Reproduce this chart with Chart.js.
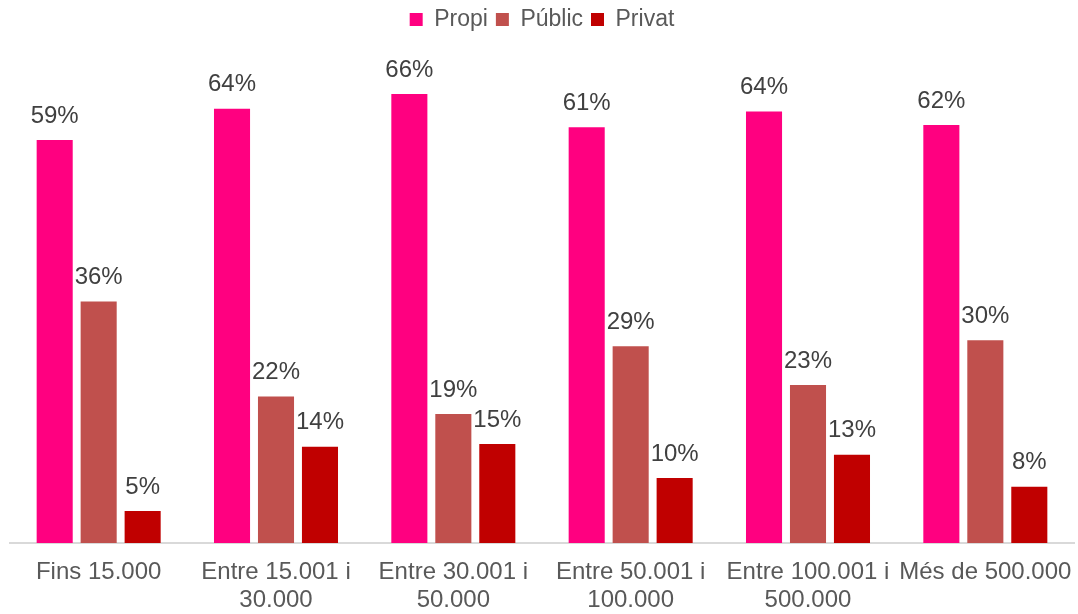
<!DOCTYPE html>
<html lang="ca">
<head>
  <meta charset="UTF-8">
  <title>Propi / Públic / Privat</title>
  <script src="https://cdn.jsdelivr.net/npm/chart.js"></script>
  <style>
    html, body { margin: 0; padding: 0; background: #fff; }
    #wrap { width: 1078px; height: 614px; }
  </style>
</head>
<body>
  <div id="wrap"><canvas id="barChart" width="1078" height="614"></canvas></div>

  <script>
    const categories = [
      'Fins 15.000',
      ['Entre 15.001 i', '30.000'],
      ['Entre 30.001 i', '50.000'],
      ['Entre 50.001 i', '100.000'],
      ['Entre 100.001 i', '500.000'],
      'Més de 500.000'
    ];
    const propi  = [59.4, 64.0, 66.2, 61.3, 63.6, 61.6];
    const public_ = [35.6, 21.6, 19.0, 29.0, 23.3, 29.9];
    const privat = [4.7, 14.2, 14.6, 9.6, 13.0, 8.3];

    const FONT = '"Liberation Sans", Arial, sans-serif';

    // draws the % label above every bar
    const barLabels = {
      id: 'barLabels',
      afterDatasetsDraw(chart) {
        const ctx = chart.ctx;
        ctx.save();
        ctx.font = '24px ' + FONT;
        ctx.fillStyle = '#404040';
        ctx.textAlign = 'center';
        ctx.textBaseline = 'bottom';
        chart.data.datasets.forEach((ds, i) => {
          chart.getDatasetMeta(i).data.forEach((bar, j) => {
            ctx.fillText(Math.round(ds.data[j]) + '%', bar.x, bar.y - 12);
          });
        });
        ctx.restore();
      }
    };

    const ctx = document.getElementById('barChart').getContext('2d');
    new Chart(ctx, {
      type: 'bar',
      data: {
        labels: categories,
        datasets: [
          { label: 'Propi', data: propi, backgroundColor: '#FF0080' },
          { label: 'Públic', data: public_, backgroundColor: '#C0504D' },
          { label: 'Privat', data: privat, backgroundColor: '#C00000' }
        ]
      },
      options: {
        responsive: false,
        animation: false,
        layout: { padding: { left: 10, right: 4, top: 0, bottom: 0 } },
        datasets: {
          bar: { barPercentage: 0.82, categoryPercentage: 0.744 }
        },
        plugins: {
          legend: {
            position: 'top',
            labels: {
              boxWidth: 13,
              boxHeight: 13,
              padding: 8,
              color: '#595959',
              font: { family: FONT, size: 23 }
            }
          },
          tooltip: { enabled: false }
        },
        scales: {
          y: {
            display: false,
            min: 0,
            max: 74
          },
          x: {
            grid: { display: false, drawTicks: false },
            border: { display: true, color: '#d9d9d9', width: 2 },
            ticks: {
              color: '#595959',
              padding: 15,
              maxRotation: 0,
              autoSkip: false,
              font: { family: FONT, size: 24, lineHeight: 1.17 }
            },
            afterFit(scale) {
              // keep the label band fixed and stop it from squeezing the plot sideways
              scale.height = 71;
              scale.paddingLeft = 0;
              scale.paddingRight = 0;
            }
          }
        }
      },
      plugins: [barLabels]
    });
  </script>
</body>
</html>
